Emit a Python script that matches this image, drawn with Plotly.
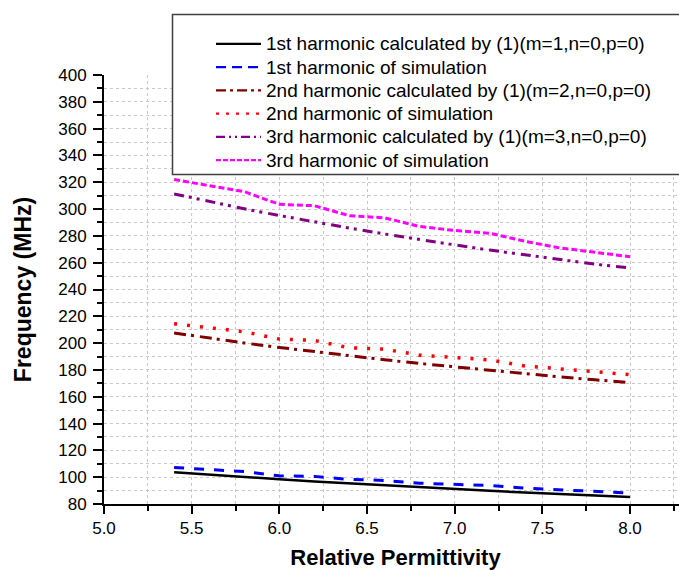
import plotly.graph_objects as go

permittivity = [5.4, 5.6, 5.8, 6.0, 6.2, 6.4, 6.6, 6.8, 7.0, 7.2, 7.4, 7.6, 7.8, 8.0]

h1_calc = [103.7, 101.8, 100.1, 98.4, 96.8, 95.3, 93.8, 92.4, 91.1, 89.8, 88.6, 87.4, 86.3, 85.2]
h1_sim = [107.2, 105.5, 104.2, 101.0, 100.6, 98.3, 97.6, 95.5, 94.5, 93.8, 91.8, 90.5, 89.3, 88.2]
h2_calc = [207.6, 203.7, 200.1, 196.8, 193.6, 190.5, 187.6, 184.8, 182.2, 179.6, 177.2, 174.8, 172.6, 170.6]
h2_sim = [214.5, 211.5, 208.5, 203.0, 202.0, 196.5, 195.5, 191.0, 189.0, 187.5, 183.0, 181.0, 179.0, 176.5]
h3_calc = [311.3, 305.5, 300.2, 295.2, 290.4, 285.8, 281.4, 277.2, 273.3, 269.4, 265.8, 262.3, 258.9, 256.0]
h3_sim = [322.0, 317.5, 313.0, 303.5, 302.5, 295.0, 293.5, 287.0, 284.0, 282.0, 276.0, 271.0, 268.0, 264.5]

names = [
    "1st harmonic calculated by (1)(m=1,n=0,p=0)",
    "1st harmonic of simulation",
    "2nd harmonic calculated by (1)(m=2,n=0,p=0)",
    "2nd harmonic of simulation",
    "3rd harmonic calculated by (1)(m=3,n=0,p=0)",
    "3rd harmonic of simulation",
]
series = [h1_calc, h1_sim, h2_calc, h2_sim, h3_calc, h3_sim]
colors = ["#000000", "#0000FF", "#800000", "#FF0000", "#800080", "#FF00FF"]
dashes = ["solid", "10px,10px", "12px,5px,3px,6px", "3px,10px",
          "10px,5px,3px,5px,3px,6px", "6px,3px"]
legend_dashes = ["solid", "10px,6px", "10px,4px,3px,4px", "3px,7px",
                 "9px,4px,2px,4px,2px,4px", "5px,2px"]
widths = [2.5, 3, 3, 3.5, 3, 3]

font_family = "Liberation Sans, Arial, sans-serif"

# The page body has an 8px margin, so the figure is sized to fill the rest.
OFF = 8
W, H = 687 - OFF, 570 - OFF
ML, MR, MT, MB = 104 - OFF, 0, 74.5 - OFF, 570 - 504
PW, PH = W - ML - MR, H - MT - MB


def px(page_x):
    return (page_x - OFF - ML) / PW


def py(page_y):
    return (H - MB - (page_y - OFF)) / PH


fig = go.Figure()
for name, ys, c, d, w in zip(names, series, colors, dashes, widths):
    fig.add_trace(go.Scatter(x=permittivity, y=ys, mode="lines", name=name,
                             line=dict(color=c, dash=d, width=w),
                             showlegend=False))

shapes = [dict(type="rect", xref="paper", yref="paper",
               x0=px(172.5), x1=px(700), y0=py(174), y1=py(14),
               line=dict(color="#404040", width=1.5),
               fillcolor="white", layer="above")]
annotations = []
row_y = [43.3, 66.6, 89.9, 113.2, 136.5, 159.8]
for name, c, d, ry in zip(names, colors, legend_dashes, row_y):
    shapes.append(dict(type="line", xref="paper", yref="paper",
                       x0=px(216), x1=px(261), y0=py(ry), y1=py(ry),
                       line=dict(color=c, dash=d, width=2.2), layer="above"))
    annotations.append(dict(text=name, xref="paper", yref="paper",
                            x=px(264), y=py(ry), xanchor="left", yanchor="middle",
                            showarrow=False,
                            font=dict(family=font_family, size=19, color="#000000")))

fig.update_layout(
    width=W, height=H,
    margin=dict(l=ML, r=MR, t=MT, b=MB, pad=0),
    plot_bgcolor="white", paper_bgcolor="white",
    font=dict(family=font_family, size=17, color="#000000"),
    showlegend=False,
    shapes=shapes,
    annotations=annotations,
)

fig.update_xaxes(
    range=[5.0, 5.0 + 3.0 * PW / 526.0], dtick=0.5, tick0=5.0, tickformat=".1f",
    showline=True, linecolor="black", linewidth=2,
    ticks="outside", ticklen=8, tickwidth=1.5, tickcolor="black",
    showgrid=True, gridcolor="#c8c8c8", griddash="dot", gridwidth=1,
    minor=dict(dtick=0.25, ticks="outside", ticklen=5, tickcolor="black",
               showgrid=True, gridcolor="#c8c8c8", griddash="dot", gridwidth=1),
    zeroline=False, automargin=False,
    title=dict(text="<b>Relative Permittivity</b>", font=dict(size=22), standoff=18),
    tickfont=dict(size=17),
)
fig.update_yaxes(
    range=[80, 400], dtick=20, tick0=80,
    showline=True, linecolor="black", linewidth=2,
    ticks="outside", ticklen=9, tickwidth=1.5, tickcolor="black",
    showgrid=True, gridcolor="#c8c8c8", griddash="dot", gridwidth=1,
    minor=dict(dtick=10, ticks="outside", ticklen=5, tickcolor="black",
               showgrid=True, gridcolor="#c8c8c8", griddash="dot", gridwidth=1),
    zeroline=False, automargin=False, ticklabelstandoff=3,
    title=dict(text="<b>Frequency (MHz)</b>", font=dict(size=23), standoff=20),
    tickfont=dict(size=17),
)

fig.write_html("out.html")
